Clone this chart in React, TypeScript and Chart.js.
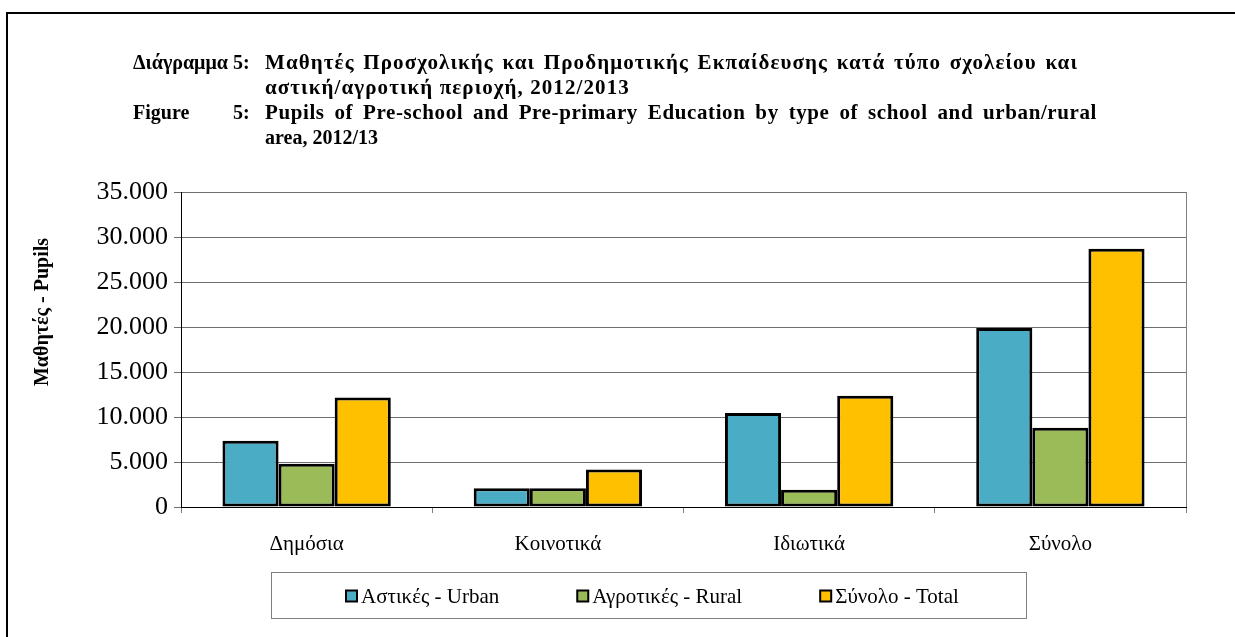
import { useEffect, useRef } from "react";
import { Chart, registerables } from "chart.js";

Chart.register(...registerables);

const categories = ["Δημόσια", "Κοινοτικά", "Ιδιωτικά", "Σύνολο"];
const urbanValues = [7370, 2080, 10440, 19890];
const ruralValues = [4810, 2080, 1920, 8810];
const totalValues = [12180, 4160, 12360, 28700];
const seriesLabels = ["Αστικές - Urban", "Αγροτικές - Rural", "Σύνολο - Total"];
const seriesColors = ["#4BACC6", "#9BBB59", "#FFC000"];
const yMin = 0;
const yMax = 35000;
const yStep = 5000;
const yAxisTitle = "Μαθητές - Pupils";
const titleGreekLabel = "Διάγραμμα 5:";
const titleEnglishLabel = "Figure";
const titleEnglishNumber = "5:";
const titleGreekLines = [
  "Μαθητές Προσχολικής και Προδημοτικής Εκπαίδευσης κατά τύπο σχολείου και",
  "αστική/αγροτική περιοχή, 2012/2013",
];
const titleEnglishLines = [
  "Pupils of Pre-school and Pre-primary Education by type of school and urban/rural",
  "area, 2012/13",
];

const SERIF = "'Liberation Serif', 'Times New Roman', serif";

function fmt(v: number | string) {
  return String(v).replace(/\B(?=(\d{3})+(?!\d))/g, ".");
}

// draw a line of words justified between x0 and x1
function drawJustified(ctx: CanvasRenderingContext2D, text: string, x0: number, x1: number, y: number) {
  const words = text.split(" ");
  const wordsW = words.reduce((a, w) => a + ctx.measureText(w).width, 0);
  const gap = words.length > 1 ? (x1 - x0 - wordsW) / (words.length - 1) : 0;
  let x = x0;
  words.forEach((w) => {
    ctx.fillText(w, x, y);
    x += ctx.measureText(w).width + gap;
  });
}

const decorPlugin = {
  id: "decor",
  beforeDraw(chart: any) {
    const ctx = chart.ctx;
    ctx.save();
    ctx.fillStyle = "#ffffff";
    ctx.fillRect(0, 0, chart.width, chart.height);
    ctx.restore();
  },
  afterDraw(chart: any) {
    const ctx = chart.ctx as CanvasRenderingContext2D;
    const area = chart.chartArea;
    ctx.save();

    // outer frame
    ctx.strokeStyle = "#000";
    ctx.lineWidth = 2;
    ctx.strokeRect(7, 13, 1400, 800);

    // plot area right edge
    ctx.strokeStyle = "#808080";
    ctx.lineWidth = 1;
    ctx.beginPath();
    ctx.moveTo(Math.round(area.right) + 0.5, area.top);
    ctx.lineTo(Math.round(area.right) + 0.5, area.bottom);
    ctx.stroke();

    // title
    ctx.fillStyle = "#000";
    ctx.font = `bold 20px ${SERIF}`;
    ctx.textBaseline = "alphabetic";
    ctx.textAlign = "left";
    const labelX = 133;
    const bodyX = 265;
    const lineY = [69, 94, 119, 144];
    ctx.fillText(titleGreekLabel, labelX, lineY[0]);
    ctx.fillText(titleEnglishLabel, labelX, lineY[2]);
    const labelEnd = labelX + ctx.measureText(titleGreekLabel).width;
    ctx.textAlign = "right";
    ctx.fillText(titleEnglishNumber, labelEnd, lineY[2]);
    ctx.textAlign = "left";
    ctx.font = `bold 21px ${SERIF}`;
    (ctx as any).letterSpacing = "1.1px";
    drawJustified(ctx, titleGreekLines[0], bodyX, 1078, lineY[0]);
    ctx.fillText(titleGreekLines[1], bodyX, lineY[1]);
    (ctx as any).letterSpacing = "0.6px";
    drawJustified(ctx, titleEnglishLines[0], bodyX, 1097, lineY[2]);
    (ctx as any).letterSpacing = "0px";
    ctx.font = `bold 20px ${SERIF}`;
    ctx.fillText(titleEnglishLines[1], bodyX, lineY[3]);

    // y axis title
    ctx.save();
    ctx.translate(43, 312);
    ctx.rotate(-Math.PI / 2);
    ctx.textAlign = "center";
    ctx.textBaseline = "middle";
    ctx.font = `bold 20px ${SERIF}`;
    ctx.fillText(yAxisTitle, 0, 0);
    ctx.restore();

    // legend
    const boxL = 271, boxT = 572, boxR = 1026, boxB = 618;
    ctx.strokeStyle = "#7f7f7f";
    ctx.lineWidth = 1;
    ctx.strokeRect(boxL + 0.5, boxT + 0.5, boxR - boxL, boxB - boxT);
    ctx.font = `21px ${SERIF}`;
    const sq = 11;
    const sqGap = 4;
    const itemGap = 78;
    const datasets = chart.data.datasets;
    const widths = datasets.map((d: any) => sq + sqGap + ctx.measureText(d.label).width);
    const totalW = widths.reduce((a: number, b: number) => a + b, 0) + itemGap * (datasets.length - 1);
    let x = Math.round((boxL + boxR) / 2 - totalW / 2) + 4;
    const cy = (boxT + boxB) / 2 + 1;
    datasets.forEach((d: any, i: number) => {
      ctx.fillStyle = d.backgroundColor;
      ctx.fillRect(x, cy - sq / 2, sq, sq);
      ctx.strokeStyle = "#000";
      ctx.lineWidth = 2;
      ctx.strokeRect(x, cy - sq / 2, sq, sq);
      ctx.fillStyle = "#000";
      ctx.textAlign = "left";
      ctx.textBaseline = "middle";
      ctx.fillText(d.label, x + sq + sqGap, cy + 1);
      x += widths[i] + itemGap;
    });

    ctx.restore();
  },
};

export default function App() {
  const ref = useRef<HTMLCanvasElement>(null);

  useEffect(() => {
    const values = [urbanValues, ruralValues, totalValues];
    const chart = new Chart(ref.current as HTMLCanvasElement, {
      type: "bar",
      data: {
        labels: categories,
        datasets: seriesLabels.map((label, i) => ({
          label,
          data: values[i],
          backgroundColor: seriesColors[i],
          borderColor: "#000",
          borderWidth: 3,
          borderSkipped: false,
          categoryPercentage: 0.67,
          barPercentage: 1.0,
        })),
      },
      options: {
        responsive: false,
        animation: false,
        devicePixelRatio: 1,
        layout: { padding: { left: 0, top: 192, right: 49, bottom: 0 } },
        plugins: {
          legend: { display: false },
          title: { display: false },
          tooltip: { enabled: false },
        },
        scales: {
          x: {
            grid: {
              drawOnChartArea: false,
              drawTicks: true,
              tickLength: 6,
              color: "#808080",
              offset: true,
            },
            border: { color: "#000", width: 1 },
            ticks: {
              font: { family: SERIF, size: 21 },
              color: "#000",
              padding: 19,
            },
            afterFit: (s: any) => {
              s.height = 130;
            },
          },
          y: {
            min: yMin,
            max: yMax,
            ticks: {
              stepSize: yStep,
              callback: (v: any) => fmt(v),
              font: { family: SERIF, size: 26 },
              color: "#000",
              padding: 6,
            },
            grid: { color: "#6f6f6f", tickLength: 7, drawTicks: true },
            border: { color: "#000", width: 1 },
            afterFit: (s: any) => {
              s.width = 181;
            },
          },
        },
      },
      plugins: [decorPlugin],
    });
    return () => chart.destroy();
  }, []);

  return (
    <div
      style={{
        position: "fixed",
        left: 0,
        top: 0,
        width: 1235,
        height: 637,
        overflow: "hidden",
        background: "#fff",
      }}
    >
      <canvas
        ref={ref}
        width={1235}
        height={637}
        style={{ display: "block", width: 1235, height: 637 }}
      />
    </div>
  );
}
